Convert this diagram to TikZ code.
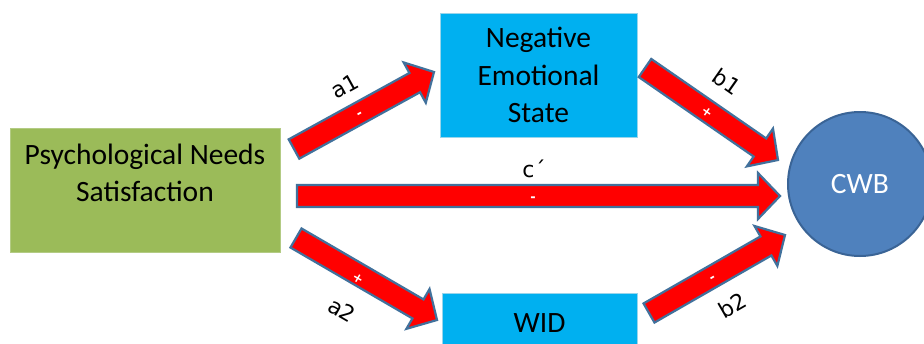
\documentclass[tikz,border=0pt]{standalone}
\usepackage{fontspec}
\setmainfont{Carlito}
\newfontfamily\lblfont{DejaVu Sans}
\usetikzlibrary{calc}
\definecolor{psngreen}{HTML}{9BBB59}
\definecolor{psnedge}{HTML}{B3CB84}
\definecolor{nesblue}{HTML}{00B0F0}
\definecolor{cwbfill}{HTML}{4F81BD}
\definecolor{cwbedge}{HTML}{3A6496}
\definecolor{arrowedge}{HTML}{41719C}
\tikzset{
  blockar/.style={fill=red, draw=arrowedge, line width=2.2pt, line join=miter},
  boxtext/.style={font=\fontsize{29.5}{37.5}\selectfont, align=center, inner sep=0pt},
  greenbox/.style={draw=psnedge, fill=psngreen, line width=1pt},
  bluebox/.style={fill=nesblue, draw=nesblue!85!black!40, line width=0.6pt},
  cwbnode/.style={circle, fill=cwbfill, draw=cwbedge, line width=2pt, text=white},
  lbl/.style={font=\lblfont\fontsize{22}{26}\selectfont, inner sep=1pt},
  signmark/.style={font=\lblfont\bfseries\fontsize{13}{15}\selectfont, text=white, inner sep=0pt}
}
\newcommand\blockarrow[2]{%
  \coordinate (bahead) at ($(#2)!22pt!(#1)$);
  \draw[blockar] ($(#1)!11pt!90:(#2)$) -- ($(bahead)!11pt!90:(#2)$)
    -- ($(bahead)!23pt!90:(#2)$) -- (#2) -- ($(bahead)!23pt!-90:(#2)$)
    -- ($(bahead)!11pt!-90:(#2)$) -- ($(#1)!11pt!-90:(#2)$) -- cycle;}
\begin{document}
\begin{tikzpicture}[x=1pt,y=-1pt]
\useasboundingbox (0,0) rectangle (924,343);
\clip (0,0) rectangle (924,343);
\fill[white] (0,0) rectangle (924,343);
% boxes
\node[greenbox, minimum width=270pt, minimum height=124pt, anchor=north west] (psnbox) at (10,128) {};
\node[boxtext] (psn) at (145,173) {Psychological Needs\\Satisfaction};
\node[bluebox, boxtext, minimum width=197pt, minimum height=124pt] (nes) at (538.5,75) {Negative\\Emotional\\State};
\node[bluebox, boxtext, minimum width=195pt, minimum height=60pt] (wid) at (539.5,323) {WID};
\node[cwbnode, boxtext, minimum size=144pt] (cwb) at (860,184) {CWB};
% arrow end points
\coordinate (a1s) at (294,149); \coordinate (a1e) at (434,72);
\coordinate (b1s) at (645,68);  \coordinate (b1e) at (778,160);
\coordinate (cs)  at (297,196); \coordinate (ce)  at (780,196);
\coordinate (a2s) at (296,238); \coordinate (a2e) at (437,320);
\coordinate (b2s) at (649,313); \coordinate (b2e) at (785,235);
\blockarrow{a1s}{a1e}
\blockarrow{b1s}{b1e}
\blockarrow{cs}{ce}
\blockarrow{a2s}{a2e}
\blockarrow{b2s}{b2e}
% labels
\node[lbl, rotate=29] (la1) at (345,86) {a1};
\node[lbl, rotate=-35] (lb1) at (727,82) {b1};
\node[lbl] (lc) at (534,169) {c´};
\node[lbl, rotate=-30] (la2) at (342,310) {a2};
\node[lbl, rotate=30] (lb2) at (732,305) {b2};
\node[signmark, rotate=29] (sa1) at (360,115) {-};
\node[signmark, rotate=-35] (sb1) at (707,112) {+};
\node[signmark] (sc) at (533,199) {-};
\node[signmark, rotate=-30] (sa2) at (358,279) {+};
\node[signmark, rotate=30] (sb2) at (713,279) {-};
\end{tikzpicture}
\end{document}
